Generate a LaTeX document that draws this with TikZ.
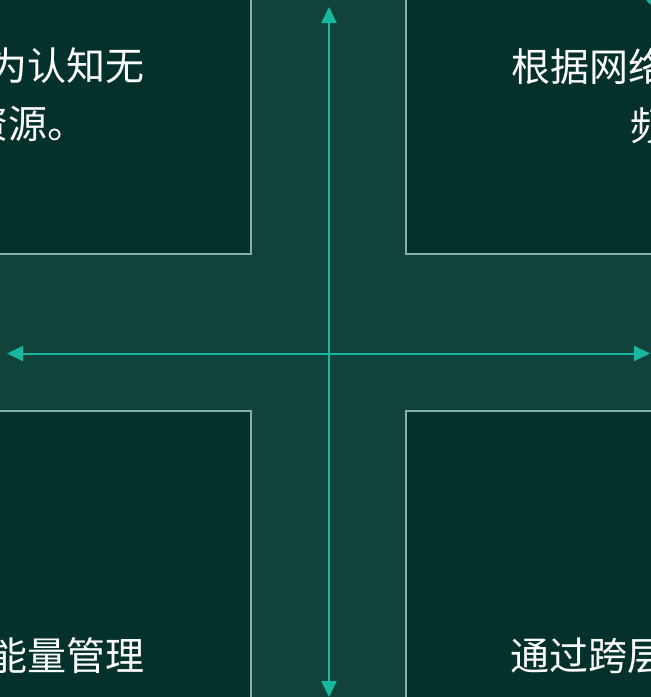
\documentclass[tikz,border=0pt]{standalone}
\usepackage{fontspec}
\newfontfamily\cjk{Noto Sans CJK SC}
\usetikzlibrary{arrows.meta}
\definecolor{bgc}{HTML}{10433B}
\definecolor{boxc}{HTML}{04312B}
\definecolor{edgec}{HTML}{86AFA8}
\definecolor{axisc}{HTML}{17B89F}
\tikzset{
  quad/.style={fill=boxc, draw=edgec, line width=1.2pt},
  axisline/.style={draw=axisc, line width=2pt, {Triangle[length=16pt,width=15pt]}-{Triangle[length=16pt,width=15pt]}},
  txt/.style={text=white, inner sep=0pt, font=\cjk\fontsize{39}{58}\selectfont}
}
\begin{document}
\begin{tikzpicture}[x=1pt,y=-1pt]
\clip (0,0) rectangle (651,697);
\fill[bgc] (0,0) rectangle (651,697);
% quadrant boxes
\draw[quad] (-20,-20) rectangle (251,254);
\draw[quad] (406,-20) rectangle (680,254);
\draw[quad] (-20,411) rectangle (251,720);
\draw[quad] (406,411) rectangle (680,720);
% decorative teal circle top-right
\fill[axisc] (659,-8) circle (15);
% axes
\coordinate (top) at (329,7);
\coordinate (bottom) at (329,697);
\coordinate (left) at (7,353.5);
\coordinate (right) at (650,353.5);
\draw[axisline] (top) -- (bottom);
\draw[axisline] (left) -- (right);
% texts
\node[txt, anchor=east] (tl1) at (145,66) {为认知无};
\node[txt, anchor=west] (tl2) at (-31,124) {资源。};
\node[txt, anchor=west] (tr1) at (511,66) {根据网络};
\node[txt, anchor=west] (tr2) at (630,126) {频};
\node[txt, anchor=east] (bl1) at (145,656) {能量管理};
\node[txt, anchor=west] (br1) at (510,656) {通过跨层};
\end{tikzpicture}
\end{document}
